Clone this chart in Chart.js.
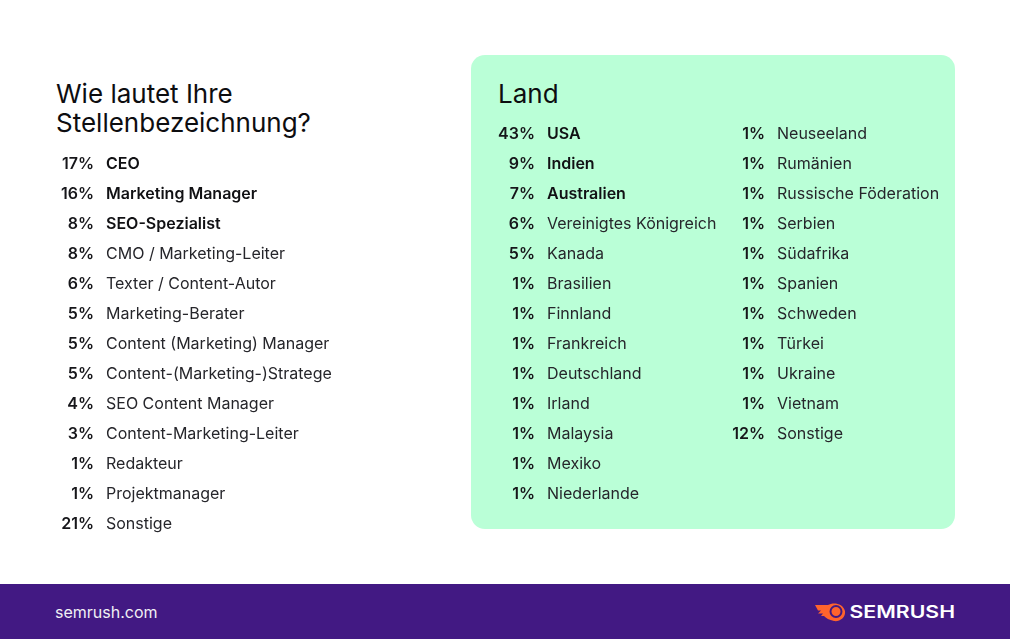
<!DOCTYPE html>
<html lang="de">
<head>
<meta charset="utf-8">
<title>Semrush Umfrage</title>
<script src="https://cdn.jsdelivr.net/npm/chart.js@4"></script>
<style>
  html, body { margin: 0; padding: 0; background: #fff; }
  #page { position: relative; width: 1010px; height: 639px; overflow: hidden; font-family: Inter, sans-serif; color: #16161a; }
  #panel { position: absolute; left: 471px; top: 55px; width: 484px; height: 474px; background: #baffd7; border-radius: 14px; }
  .title { position: absolute; font-family: Inter, sans-serif; font-size: 26px; line-height: 29px; white-space: nowrap; color: #0d0d10; }
  .box { position: absolute; }
  #footer { position: absolute; left: 0; top: 584px; width: 1010px; height: 55px; background: #421983; }
  #site { position: absolute; left: 55px; top: 18px; font-size: 16px; line-height: 20px; color: #f1f0f4; }
  #logo { position: absolute; left: 814px; top: 16px; }
</style>
</head>
<body>
<div id="page">
  <div id="panel"></div>
  <div class="title" style="left:56px;top:79px">Wie lautet Ihre<br>Stellenbezeichnung?</div>
  <div class="title" style="left:498px;top:79px">Land</div>
  <div class="box" style="left:50px;top:149px;width:380px;height:390px"><canvas id="jobs"></canvas></div>
  <div class="box" style="left:491px;top:119px;width:228px;height:390px"><canvas id="land1"></canvas></div>
  <div class="box" style="left:721px;top:119px;width:228px;height:330px"><canvas id="land2"></canvas></div>
  <div id="footer">
    <div id="site">semrush.com</div>
    <svg id="logo" width="142" height="24" viewBox="0 0 142 24">
      <path d="M1 5 H14 C19 2 29 3 31 11 C32 18 25 22 20 21 C15 20 12 18 10 16 H7 L9 13.5 H4 L7 10.5 H4 Z" fill="#ff642d"/>
      <circle cx="22" cy="11.5" r="5.5" fill="none" stroke="#421983" stroke-width="2"/>
      <text x="35.5" y="17.5" font-family="Inter, sans-serif" font-weight="600" font-size="17" textLength="105.5" lengthAdjust="spacingAndGlyphs" fill="#fff">SEMRUSH</text>
    </svg>
  </div>
</div>
<script>
var jobNames = ['CEO', 'Marketing Manager', 'SEO-Spezialist', 'CMO / Marketing-Leiter', 'Texter / Content-Autor', 'Marketing-Berater', 'Content (Marketing) Manager', 'Content-(Marketing-)Stratege', 'SEO Content Manager', 'Content-Marketing-Leiter', 'Redakteur', 'Projektmanager', 'Sonstige'];
var jobValues = [17, 16, 8, 8, 6, 5, 5, 5, 4, 3, 1, 1, 21];

var landNames1 = ['USA', 'Indien', 'Australien', 'Vereinigtes Königreich', 'Kanada', 'Brasilien', 'Finnland', 'Frankreich', 'Deutschland', 'Irland', 'Malaysia', 'Mexiko', 'Niederlande'];
var landValues1 = [43, 9, 7, 6, 5, 1, 1, 1, 1, 1, 1, 1, 1];

var landNames2 = ['Neuseeland', 'Rumänien', 'Russische Föderation', 'Serbien', 'Südafrika', 'Spanien', 'Schweden', 'Türkei', 'Ukraine', 'Vietnam', 'Sonstige'];
var landValues2 = [1, 1, 1, 1, 1, 1, 1, 1, 1, 1, 12];

// names sit right of the value axis, first ones bold when asked
var rowNames = {
  id: 'rowNames',
  afterDatasetsDraw: function (chart, args, opts) {
    var c = chart.ctx;
    c.save();
    c.textBaseline = 'middle';
    chart.data.labels.forEach(function (name, i) {
      var bold = i < opts.boldRows;
      c.font = (bold ? '600 ' : '400 ') + '16px Inter';
      c.fillStyle = bold ? '#111114' : '#26262b';
      c.fillText(name, chart.chartArea.left, chart.scales.y.getPixelForValue(i) + 0.5);
    });
    c.restore();
  }
};

function makeTable(id, names, values, boldRows, axisWidth) {
  return new Chart(document.getElementById(id), {
    type: 'bar',
    data: { labels: names, datasets: [{ data: values, backgroundColor: 'transparent' }] },
    options: {
      indexAxis: 'y',
      responsive: true,
      maintainAspectRatio: false,
      animation: false,
      layout: { padding: 0 },
      plugins: {
        legend: { display: false },
        tooltip: { enabled: false },
        rowNames: { boldRows: boldRows }
      },
      scales: {
        x: { display: false, min: 0, max: 100 },
        y: {
          // tick padding would otherwise inset the rows top and bottom
          afterFit: function (s) { s.width = axisWidth; s.paddingTop = 0; s.paddingBottom = 0; },
          grid: { display: false, drawTicks: false },
          border: { display: false },
          ticks: {
            padding: 12,
            autoSkip: false,
            color: '#16161a',
            font: { family: 'Inter', size: 16, weight: '600' },
            callback: function (v, i) { return values[i] + '%'; }
          }
        }
      }
    },
    plugins: [rowNames]
  });
}

makeTable('jobs', jobNames, jobValues, 3, 56);
makeTable('land1', landNames1, landValues1, 3, 56);
makeTable('land2', landNames2, landValues2, 0, 56);
</script>
</body>
</html>
